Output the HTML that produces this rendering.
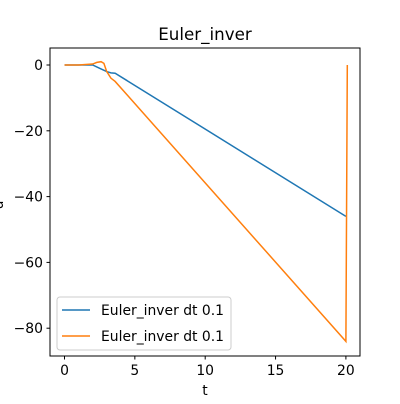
<!DOCTYPE html>
<html><head><meta charset="utf-8"><style>
body{margin:0;background:#fff;font-family:"DejaVu Sans","Liberation Sans",sans-serif}
svg text{font-family:"DejaVu Sans","Liberation Sans",sans-serif;font-size:13.9px;fill:#000}
</style></head><body>
<svg width="400" height="400">
<script>
const tBlue=[0,1,2,2.5,3,3.3,3.6,20];
const yBlue=[0,0,0,-1,-2,-2.4,-2.5,-46];
const tOrange=[0,1,2,2.3,2.6,2.8,3,3.3,3.6,20,20.1];
const yOrange=[0,0,0.3,0.8,1,0.5,-2,-4,-5,-84,0];
const xTicks=[0,5,10,15,20];
const yTicks=[0,-20,-40,-60,-80];
</script>
<rect x="50" y="48" width="310" height="308" fill="none" stroke="#000" stroke-width="1"/>
<g id="g"></g>
<text x="205" y="40" text-anchor="middle" style="font-size:16.7px">Euler_inver</text>
<text x="205" y="395" text-anchor="middle">t</text>
<text x="0" y="202" text-anchor="middle" transform="rotate(-90 3 202)">u</text>
<g>
<rect x="57" y="297" width="174" height="53" fill="#fff" fill-opacity="0.8" stroke="#ccc" rx="3"/>
<line x1="62" y1="310" x2="90" y2="310" stroke="#1f77b4" stroke-width="1.5"/>
<text x="101" y="315">Euler_inver dt 0.1</text>
<line x1="62" y1="336" x2="90" y2="336" stroke="#ff7f0e" stroke-width="1.5"/>
<text x="101" y="341">Euler_inver dt 0.1</text>
</g>
<script>
const X=t=>64.5+t*14.07, Y=v=>65-v*3.29;
const g=document.getElementById('g'), ns='http://www.w3.org/2000/svg';
function mk(tag,a){const e=document.createElementNS(ns,tag);for(const k in a)e.setAttribute(k,a[k]);g.appendChild(e);return e;}
xTicks.forEach(t=>{
 const l=mk('line',{x1:X(t),x2:X(t),y1:356,y2:359.5,stroke:'#000'});
 
 
 const s=mk('text',{x:X(t),y:375,'text-anchor':'middle'});s.textContent=t;
 
 
});
yTicks.forEach(v=>{
 const l=mk('line',{x1:46.5,x2:50,y1:Y(v),y2:Y(v),stroke:'#000'});
 
 
 const s=mk('text',{x:43,y:Y(v)+5,'text-anchor':'end'});s.textContent=v===0?'0':'\u2212'+Math.abs(v);
 
 
});
function line(ts,ys,c,n){
 const p=mk('polyline',{points:ts.map((t,i)=>X(t)+','+Y(ys[i])).join(' '),fill:'none',stroke:c,'stroke-width':1.5});
 
 
}
line(tBlue,yBlue,'#1f77b4','series-blue');
line(tOrange,yOrange,'#ff7f0e','series-orange');
</script>
</svg>
</body></html>
